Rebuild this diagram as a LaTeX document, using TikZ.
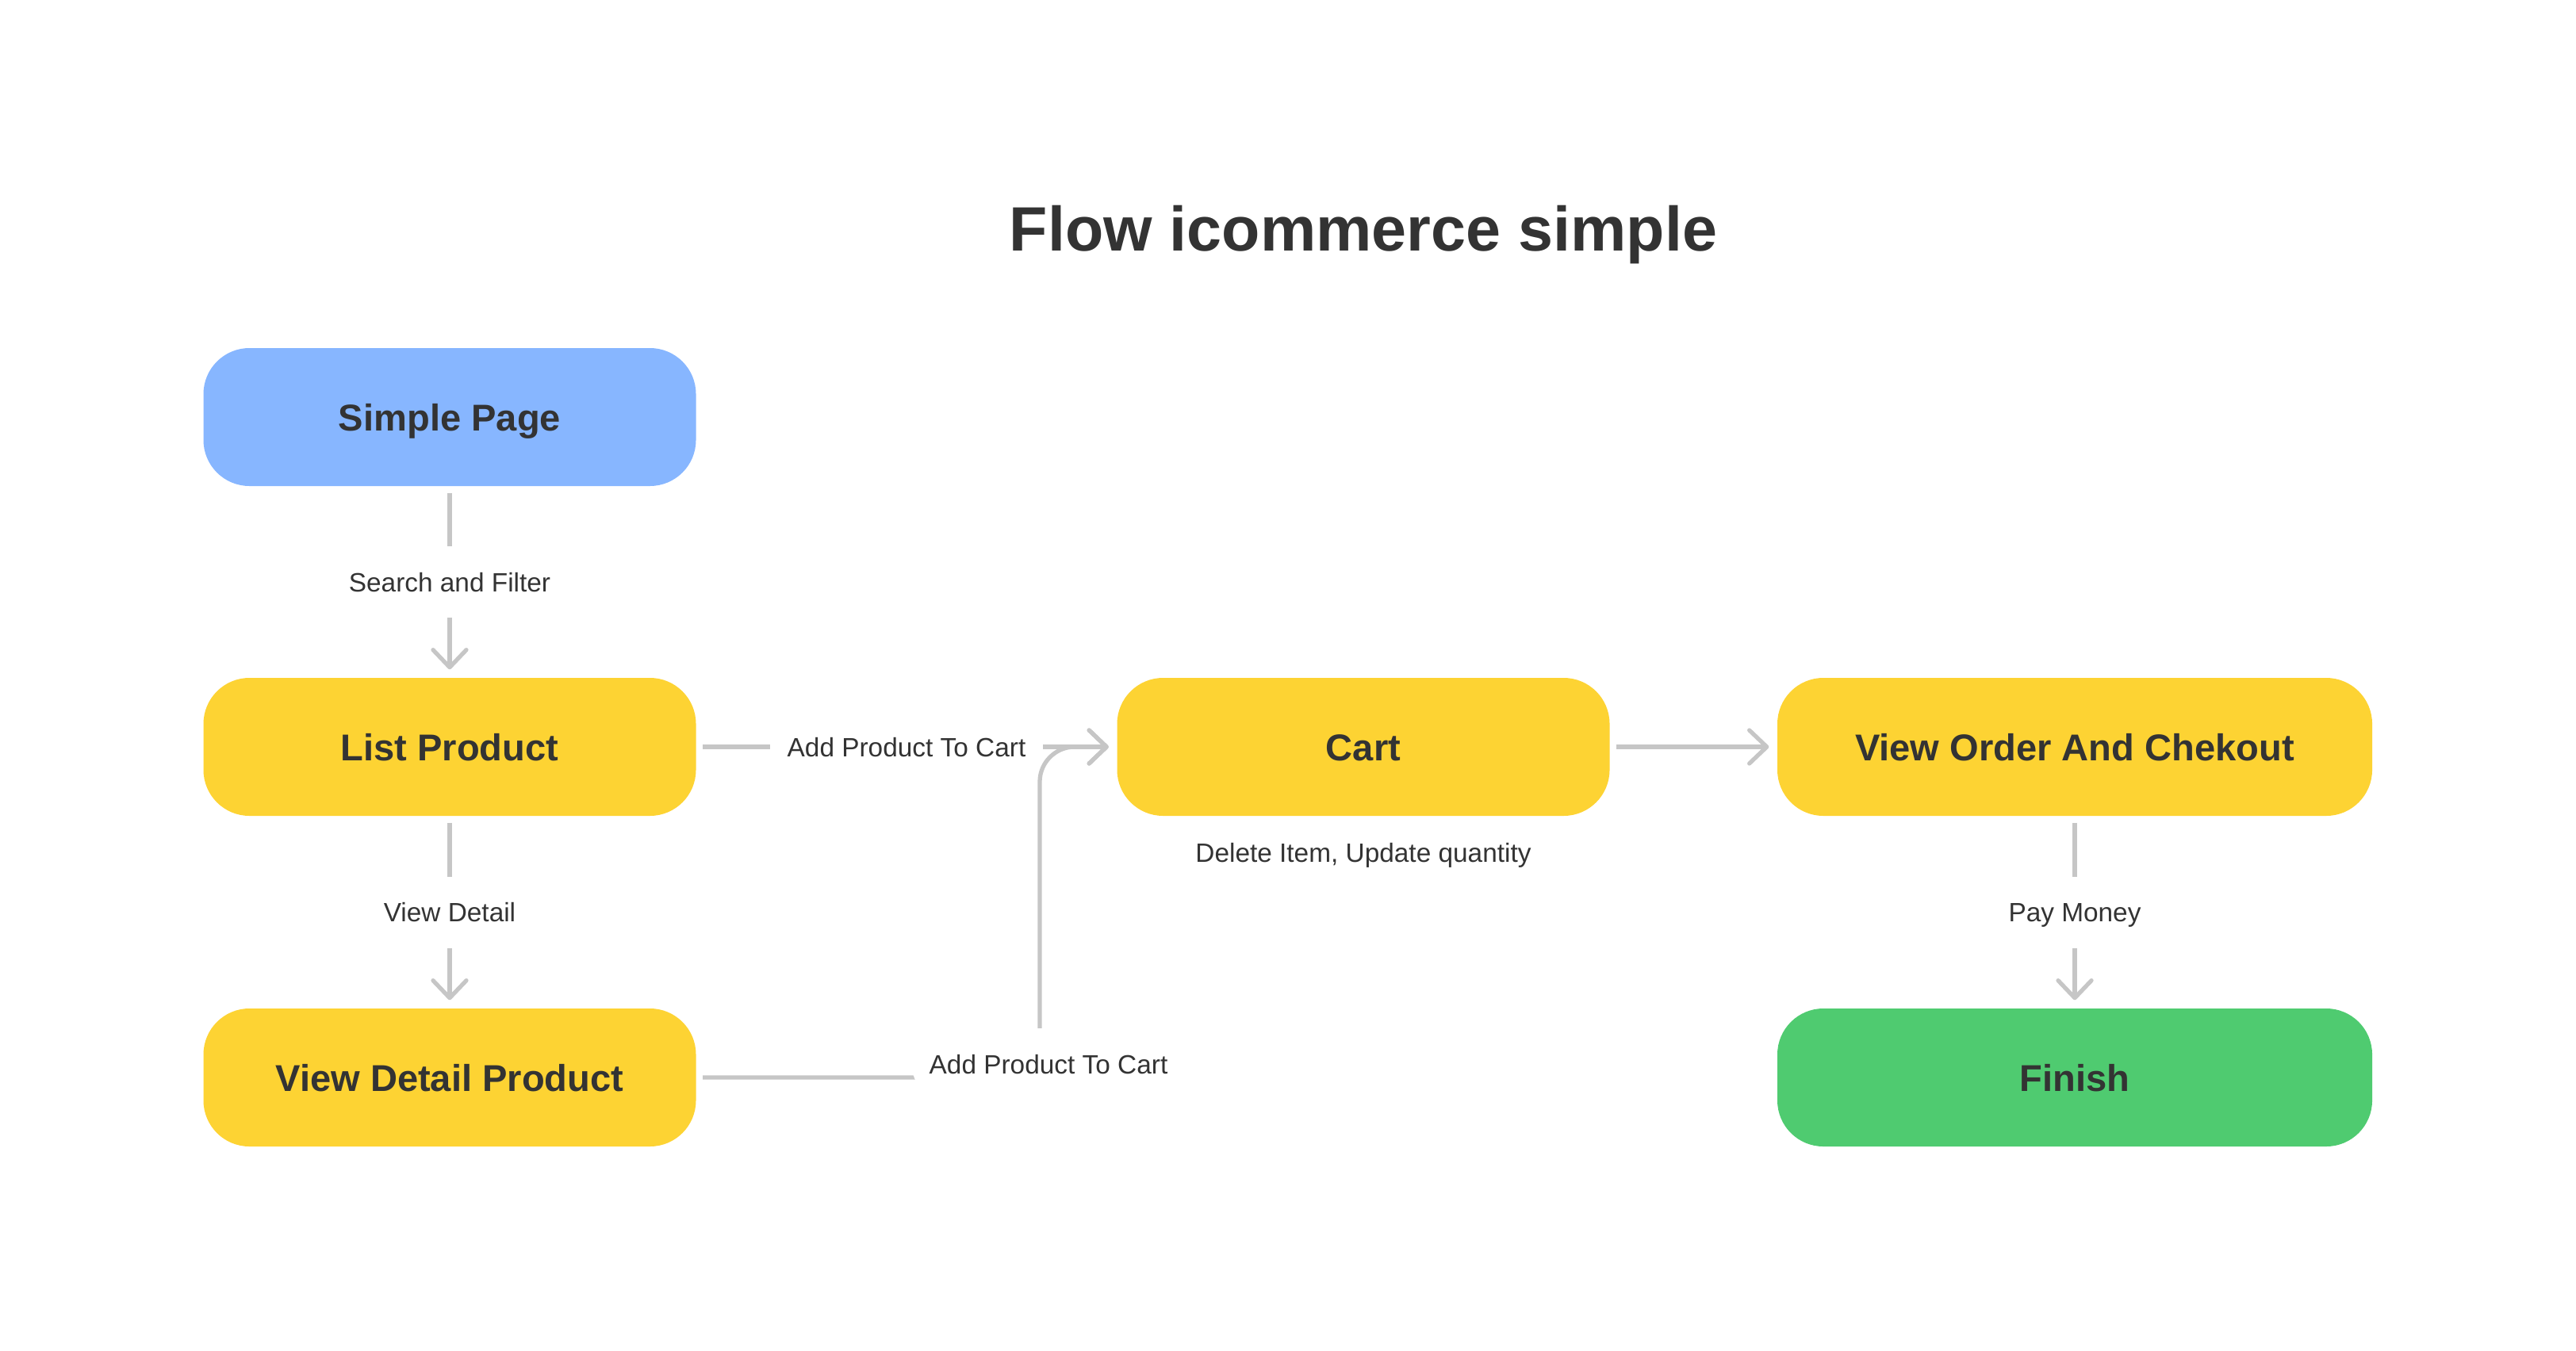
\documentclass[tikz,border=0pt]{standalone}
\usepackage{fontspec}
\setmainfont{Liberation Sans}
\usetikzlibrary{arrows.meta}
\definecolor{pageblue}{HTML}{87B6FF}
\definecolor{stageyellow}{HTML}{FDD333}
\definecolor{donegreen}{HTML}{4FCB70}
\definecolor{inkgray}{HTML}{333333}
\definecolor{wiregray}{HTML}{C6C6C6}
\begin{document}
\begin{tikzpicture}
% Set styles for boxes, labels and connectors
\tikzstyle{Box}=[rectangle,rounded corners=0.58cm,minimum height=1.74cm,text=inkgray,font=\fontsize{13.4}{16}\selectfont\bfseries,text height=0.34cm,text depth=0pt]
\tikzstyle{Entry}=[Box,fill=pageblue]
\tikzstyle{Stage}=[Box,fill=stageyellow]
\tikzstyle{Done}=[Box,fill=donegreen]
\tikzstyle{Tag}=[fill=white,text=inkgray,font=\fontsize{9.5}{11}\selectfont,inner xsep=0.22cm,inner ysep=0pt,minimum height=0.9cm,text height=0.24cm,text depth=0pt]
\tikzstyle{Wire}=[draw=wiregray,line width=1.5pt,shorten <=0.08cm,shorten >=0.1cm,-{Straight Barb[length=0.22cm,width=0.42cm,line cap=round,line join=round]}]
\useasboundingbox (0,0) rectangle (32.48,-17.03);
% Title
\node[text=inkgray,font=\fontsize{22.5}{27}\selectfont\bfseries] (title) at (17.19,-2.96) {Flow icommerce simple};
% Nodes
\foreach [count=\i] \x/\y/\w/\t/\n in {
    5.67/-5.26/6.21/Simple Page/Entry,
    5.67/-9.42/6.21/List Product/Stage,
    5.67/-13.59/6.21/View Detail Product/Stage,
    17.19/-9.42/6.21/Cart/Stage,
    26.16/-9.42/7.50/View Order And Chekout/Stage,
    26.16/-13.59/7.50/Finish/Done}
  \node[\n,minimum width=\w cm] at (\x,\y) (p\i) {\t};
\node[Tag,minimum height=0pt] (note) at (17.19,-10.75) {Delete Item, Update quantity};
% Edges
\foreach \i/\j/\l in {1/2/Search and Filter, 2/3/View Detail,
                      2/4/Add Product To Cart, 5/6/Pay Money}
  \draw[Wire] (p\i) -- node[Tag] (t\i\j) {\l} (p\j);
\draw[Wire] (p4) -- (p5);
\coordinate (bend) at (13.11,-9.42);
\draw[Wire,rounded corners=0.44cm] (p3.east) -| node[Tag,pos=0.5,xshift=0.11cm,yshift=0.17cm] (t34) {Add Product To Cart} (bend) -- (p4.west);
\end{tikzpicture}
\end{document}
